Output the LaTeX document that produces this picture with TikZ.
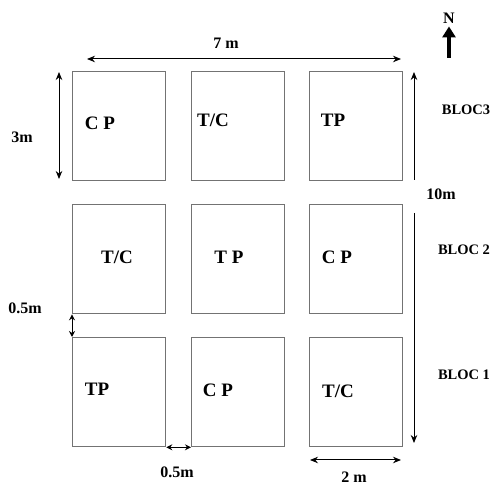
\documentclass[tikz,border=0pt]{standalone}
\usepackage{fontspec}
\setmainfont{Liberation Serif}
\usetikzlibrary{arrows.meta}
\begin{document}
\begin{tikzpicture}[x=1pt,y=-1pt,
  plot/.style={draw=black!55,line width=1.3pt,minimum width=93pt,minimum height=109pt,anchor=north west,inner sep=0pt},
  lab/.style={font=\bfseries\fontsize{19}{19}\selectfont,inner sep=0pt},
  dim/.style={font=\bfseries\fontsize{16}{16}\selectfont,inner sep=0pt},
  blk/.style={font=\bfseries\fontsize{14.5}{15}\selectfont,inner sep=0pt},
  dimarr/.style={line width=1pt,{Stealth[length=8pt,width=6.5pt]}-{Stealth[length=8pt,width=6.5pt]}},
  smallarr/.style={line width=1pt,{Stealth[length=6pt,width=6pt]}-{Stealth[length=6pt,width=6pt]}},
  onearr/.style={line width=1pt,-{Stealth[length=8pt,width=6.5pt]}}]
\useasboundingbox (0,0) rectangle (496,486);
% plots
\node[plot] (p11) at (72,71) {};
\node[plot] (p12) at (191,71) {};
\node[plot] (p13) at (309,71) {};
\node[plot] (p21) at (72,204) {};
\node[plot] (p22) at (191,204) {};
\node[plot] (p23) at (309,204) {};
\node[plot] (p31) at (72,337) {};
\node[plot] (p32) at (191,337) {};
\node[plot] (p33) at (309,337) {};
% labels
\node[lab] (l11) at (100,123) {C P};
\node[lab] (l12) at (213,120) {T/C};
\node[lab] (l13) at (333,120) {TP};
\node[lab] (l21) at (117,257) {T/C};
\node[lab] (l22) at (229,257) {T P};
\node[lab] (l23) at (337,257) {C P};
\node[lab] (l31) at (97,389) {TP};
\node[lab] (l32) at (218,390) {C P};
\node[lab] (l33) at (338,391) {T/C};
% north
\node[font=\bfseries\fontsize{16}{16}\selectfont,inner sep=0pt] (n) at (449,18) {N};
\coordinate (nb) at (449,58);
\draw[line width=3.5pt,-{Triangle[length=11pt,width=13pt]}] (nb) -- ([yshift=-3pt]n.south);
% 7 m
\coordinate (s1) at (87,59);
\coordinate (s2) at (401,59);
\draw[dimarr] (s1) -- (s2);
\node[dim] (t7) at (226,43) {7 m};
% 3m
\coordinate (h1) at (59,72);
\coordinate (h2) at (59,179);
\draw[dimarr] (h1) -- (h2);
\node[dim] (t3) at (22,137) {3m};
% 10m
\coordinate (r1) at (414,180);
\coordinate (r2) at (414,72);
\coordinate (r3) at (414,213);
\coordinate (r4) at (414,443);
\draw[onearr] (r1) -- (r2);
\draw[onearr] (r3) -- (r4);
\node[dim] (t10) at (441,194) {10m};
% blocs
\node[blk] (b3) at (466,110) {BLOC3};
\node[blk] (b2) at (464,250) {BLOC 2};
\node[blk] (b1) at (464,375) {BLOC 1};
% 0.5m vertical
\draw[smallarr] (p21.south west) -- (p31.north west);
\node[dim] (t05a) at (25,308) {0.5m};
% 0.5m horizontal
\draw[smallarr] (p31.south east) -- (p32.south west);
\node[dim] (t05b) at (177,472) {0.5m};
% 2 m
\coordinate (w1) at (310,460);
\coordinate (w2) at (401,460);
\draw[dimarr] (w1) -- (w2);
\node[dim] (t2) at (354,477) {2 m};
\end{tikzpicture}
\end{document}
